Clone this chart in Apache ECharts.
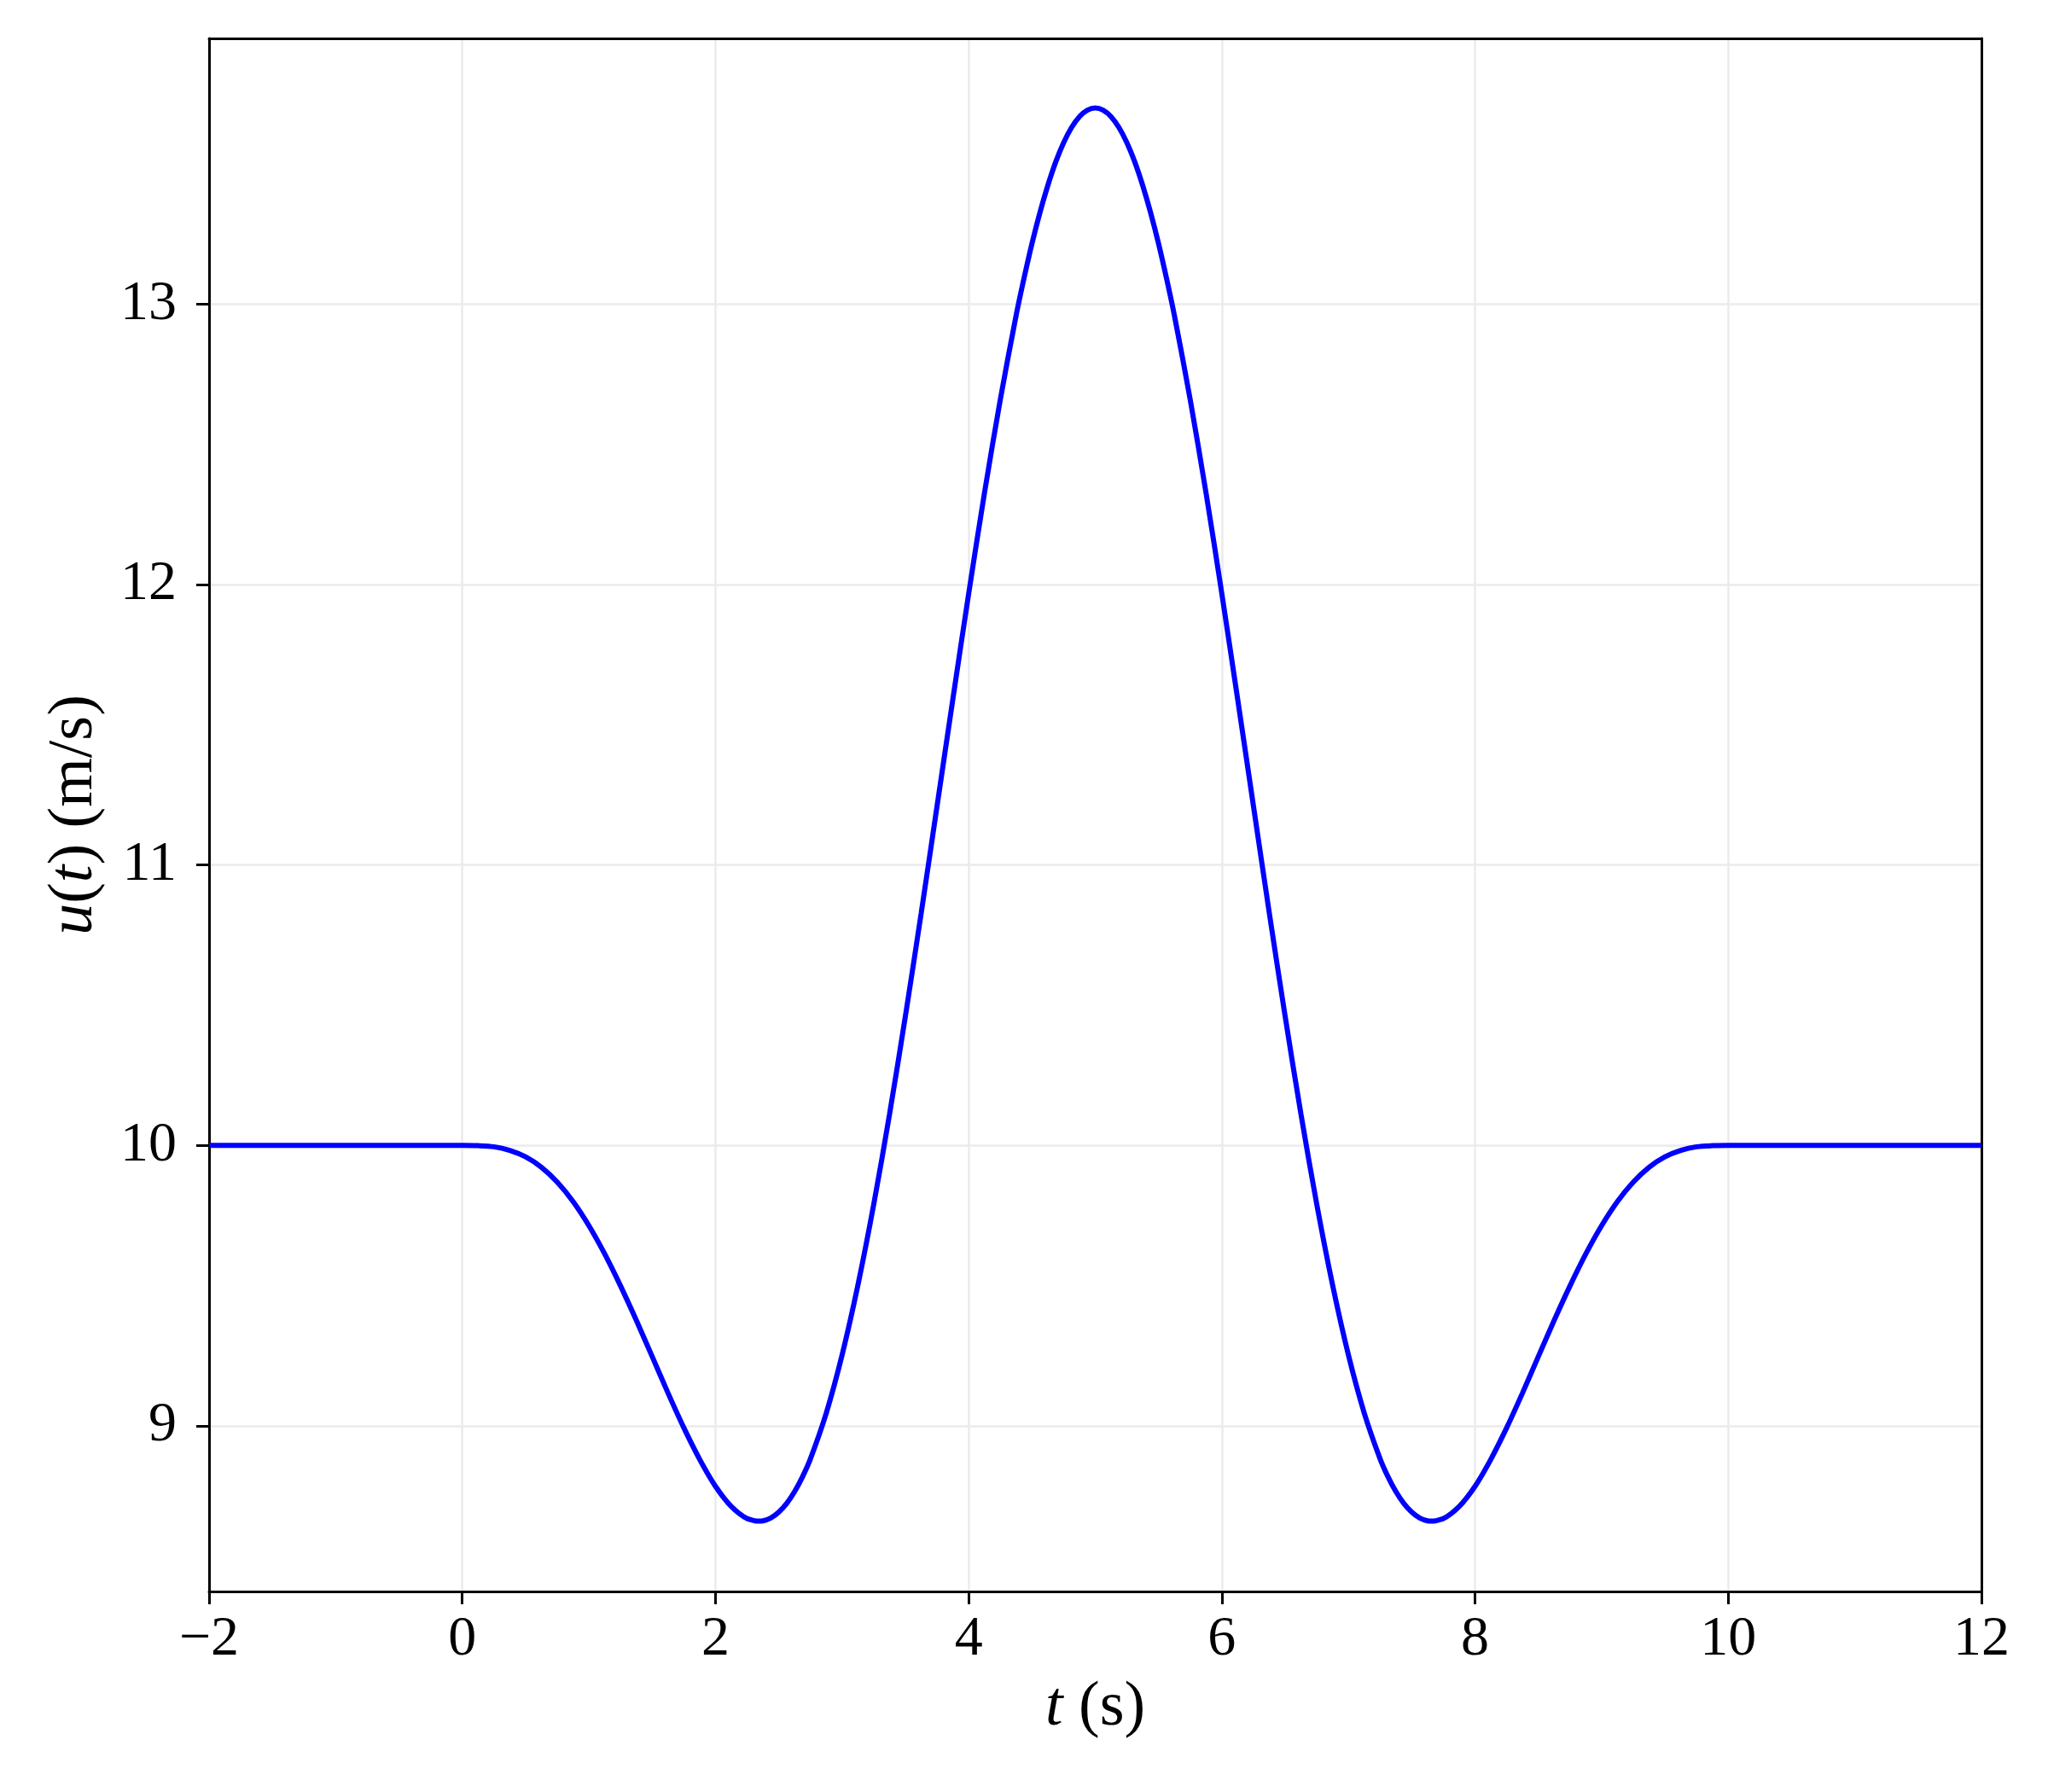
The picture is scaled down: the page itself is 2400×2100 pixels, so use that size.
<!DOCTYPE html>
<html>
<head>
<meta charset="utf-8">
<script src="https://cdn.jsdelivr.net/npm/echarts@6/dist/echarts.min.js"></script>
<style>
html,body{margin:0;padding:0;background:#fff;}
#chart{width:2400px;height:2100px;}
</style>
</head>
<body>
<div id="chart"></div>
<script>
// time (s)
const timeValues = [-2, 0, 0.125, 0.25, 0.375, 0.5, 0.625, 0.75, 0.875, 1.0, 1.125, 1.25, 1.375, 1.5, 1.625, 1.75, 1.875,
  1.9375, 2.0, 2.0625, 2.125, 2.1875, 2.25, 2.3125, 2.34, 2.375, 2.4375, 2.5, 2.5625, 2.625, 2.6875, 2.75,
  2.875, 3.0, 3.125, 3.25, 3.375, 3.5, 3.625, 3.75, 3.875, 4.0, 4.125, 4.25, 4.375,
  4.4375, 4.5, 4.5625, 4.625, 4.6875, 4.75, 4.8125, 4.875, 4.9375, 5.0,
  5.0625, 5.125, 5.1875, 5.25, 5.3125, 5.375, 5.4375, 5.5, 5.5625,
  5.625, 5.75, 5.875, 6.0, 6.125, 6.25, 6.375, 6.5, 6.625, 6.75, 6.875, 7.0, 7.125,
  7.25, 7.3125, 7.375, 7.4375, 7.5, 7.5625, 7.625, 7.66, 7.6875, 7.75, 7.8125, 7.875, 7.9375, 8.0, 8.0625,
  8.125, 8.25, 8.375, 8.5, 8.625, 8.75, 8.875, 9.0, 9.125, 9.25, 9.375, 9.5, 9.625, 9.75, 9.875, 10, 12];
// wind speed u(t) (m/s)
const speedValues = [10, 10, 9.999, 9.995, 9.982, 9.959, 9.922, 9.869, 9.800, 9.714, 9.613, 9.499, 9.376, 9.247, 9.117, 8.993, 8.880,
  8.830, 8.784, 8.745, 8.712, 8.687, 8.669, 8.661, 8.660, 8.661, 8.671, 8.692, 8.723, 8.765, 8.818, 8.882,
  9.045, 9.252, 9.501, 9.789, 10.111, 10.460, 10.828, 11.209, 11.591, 11.967, 12.327, 12.660, 12.960,
  13.093, 13.216, 13.326, 13.423, 13.507, 13.576, 13.630, 13.669, 13.692, 13.700,
  13.692, 13.669, 13.630, 13.576, 13.507, 13.423, 13.326, 13.216, 13.093,
  12.960, 12.660, 12.327, 11.967, 11.591, 11.209, 10.828, 10.460, 10.111, 9.789, 9.501, 9.252, 9.045,
  8.882, 8.818, 8.765, 8.723, 8.692, 8.671, 8.661, 8.660, 8.661, 8.669, 8.687, 8.712, 8.745, 8.784, 8.830,
  8.880, 8.993, 9.117, 9.247, 9.376, 9.499, 9.613, 9.714, 9.800, 9.869, 9.922, 9.959, 9.982, 9.995, 9.999, 10, 10];
const xTicks = [-2, 0, 2, 4, 6, 8, 10, 12];
const yTicks = [9, 10, 11, 12, 13];

const FONT = '"Liberation Serif", "Times New Roman", Times, serif';
const seriesData = timeValues.map((t, i) => [t, speedValues[i]]);

const chart = echarts.init(document.getElementById('chart'), null, {renderer: 'canvas'});
chart.setOption({
  backgroundColor: '#ffffff',
  animation: false,
  grid: {left: 245, right: 78, top: 45, bottom: 235, show: false},
  xAxis: [{
    type: 'value', min: -2, max: 12, interval: 2,
    axisLine: {show: true, onZero: false, lineStyle: {color: '#000', width: 3}},
    axisTick: {show: true, inside: false, length: 15, lineStyle: {color: '#000', width: 3}},
    axisLabel: {fontFamily: FONT, fontSize: 66, color: '#000', margin: 24,
      formatter: v => v < 0 ? '\u2212' + Math.abs(v) : String(v)},
    splitLine: {show: true, showMinLine: false, showMaxLine: false, lineStyle: {color: '#ebebeb', width: 2.5}},
    name: '{i|t} (s)', nameLocation: 'middle', nameGap: 100,
    nameTextStyle: {fontFamily: FONT, fontSize: 74, color: '#000',
      rich: {i: {fontFamily: FONT, fontStyle: 'italic', fontSize: 74, color: '#000'}}}
  }, {
    type: 'value', position: 'top', min: -2, max: 12,
    axisLine: {show: true, onZero: false, lineStyle: {color: '#000', width: 3}},
    axisTick: {show: false}, axisLabel: {show: false}, splitLine: {show: false}
  }],
  yAxis: [{
    type: 'value', min: 8.409, max: 13.948,
    axisLine: {show: true, onZero: false, lineStyle: {color: '#000', width: 3}},
    axisTick: {show: true, inside: false, length: 15, lineStyle: {color: '#000', width: 3}, customValues: yTicks},
    axisLabel: {fontFamily: FONT, fontSize: 66, color: '#000', margin: 38, customValues: yTicks},
    splitLine: {show: true, lineStyle: {color: '#ebebeb', width: 2.5}},
    name: '{i|u}({i|t}) (m/s)', nameLocation: 'middle', nameGap: 120, nameRotate: 90,
    nameTextStyle: {fontFamily: FONT, fontSize: 74, color: '#000',
      rich: {i: {fontFamily: FONT, fontStyle: 'italic', fontSize: 74, color: '#000'}}}
  }, {
    type: 'value', position: 'right', min: 8.409, max: 13.948,
    axisLine: {show: true, onZero: false, lineStyle: {color: '#000', width: 3}},
    axisTick: {show: false}, axisLabel: {show: false}, splitLine: {show: false}
  }],
  series: [{
    type: 'line', data: seriesData, showSymbol: false, smooth: 0.3,
    lineStyle: {color: '#0000ff', width: 6}, z: 5
  }]
});
</script>
</body>
</html>
